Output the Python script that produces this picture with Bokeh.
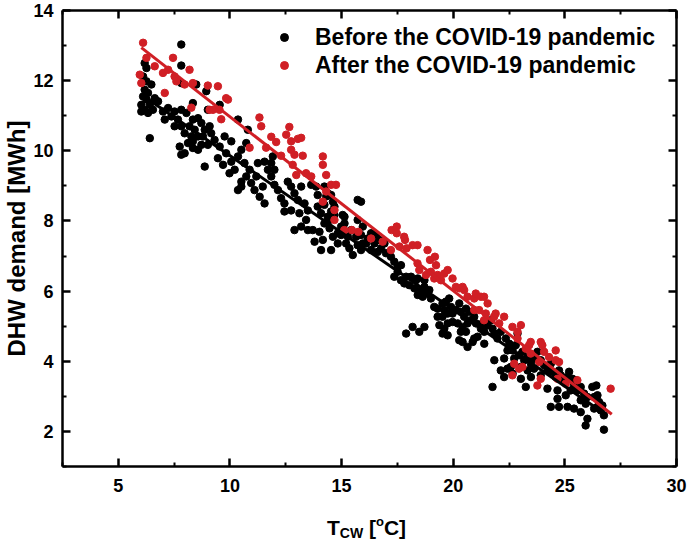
import numpy as np
from bokeh.plotting import figure
from bokeh.layouts import column
from bokeh.models import (Range1d, FixedTicker, LinearAxis, Legend, LegendItem,
                          CustomJSTickFormatter, Div)
from bokeh.embed import file_html
from bokeh.resources import INLINE

# ---------------- data ----------------
before_pts = [
    (7.82,13.03),(6.18,12.5),(6.26,12.36),(7.82,12.43),(6.11,12.12),(6.26,11.98),
    (6.18,11.74),(6.33,11.65),(6.48,11.89),(6.11,11.55),(6.26,11.46),(6.03,11.31),(6.41,11.31),
    (6.18,11.17),(6.33,11.08),(6.03,11.12),(6.55,11.17),(6.63,11.5),(6.41,10.36),
    (6.78,11.41),(7.0,11.12),(7.08,10.89),(7.23,11.22),(7.38,10.98),(7.52,11.12),(7.82,11.17),
    (8.05,11.08),(7.67,10.89),(7.52,10.7),(7.82,10.7),(7.97,10.5),(8.19,10.7),(8.34,10.89),
    (8.57,10.93),(8.72,10.79),(8.87,10.6),(8.42,10.6),(8.27,10.41),(8.12,10.22),(7.75,10.12),
    (7.82,9.89),(7.97,9.93),(8.34,10.27),(8.57,10.41),(8.79,10.41),(9.09,10.7),(9.16,10.5),
    (9.01,10.17),(8.72,10.17),(8.57,10.03),(8.34,10.08),(8.34,11.36),(8.49,11.89),(8.94,11.7),
    (9.01,11.17),(9.54,11.31),(7.82,11.93),(8.87,9.55),
    (9.31,10.31),(9.54,10.12),(9.76,10.41),(10.06,10.27),(9.46,9.79),(9.83,9.93),(9.69,9.6),
    (10.06,9.69),(10.21,9.46),(9.98,9.36),(10.36,9.84),(10.51,10.03),(10.73,10.22),(10.8,10.6),
    (10.36,10.89),(10.65,9.65),(10.88,9.46),(10.73,9.27),(10.51,9.12),(10.95,9.08),(11.18,9.27),
    (11.25,9.65),(11.55,9.69),(11.7,9.46),(11.85,9.27),(11.47,8.98),(11.1,8.88),(10.51,8.98),
    (10.36,8.88),(11.33,8.69),(11.55,8.5),(11.99,9.03),(12.15,8.88),(12.29,8.65),(12.44,8.5),
    (11.85,9.65),(11.92,9.84),(11.99,9.46),(12.59,9.12),(12.74,8.98),(12.89,8.79),(13.04,8.6),
    (13.19,8.98),(13.34,8.5),(13.49,8.3),(13.11,8.22),(12.74,8.3),(12.44,8.27),(13.19,7.84),
    (13.41,8.03),
    (12.89,7.74),(13.49,7.74),(13.71,7.74),(13.79,7.41),(14.08,7.17),(14.16,7.46),(14.01,7.69),
    (14.23,7.93),(14.38,8.12),(14.08,8.22),(13.93,8.41),(14.23,8.46),(14.31,8.7),(14.38,8.79),
    (13.93,8.74),(13.86,8.98),(13.64,9.03),(14.23,8.98),(14.53,8.74),(14.61,8.55),(14.68,8.41),
    (14.53,8.27),(14.68,8.17),(14.46,8.03),(14.46,7.79),(14.61,7.55),(14.53,7.17),(14.83,7.36),
    (14.83,7.65),(14.98,7.84),(15.13,7.93),(15.05,8.17),(15.43,7.74),(15.28,7.55),(15.2,7.36),
    (15.35,7.22),(15.5,7.03),(15.72,7.31),(15.65,7.55),(15.87,7.6),(15.95,7.36),(15.87,7.17),
    (16.1,7.36),(16.17,7.5),(16.32,7.65),(16.54,7.6),(16.47,7.36),(16.69,7.46),(16.77,7.22),
    (16.92,7.36),(16.99,7.08),(16.62,7.12),(16.32,7.17),(17.21,6.98),(17.36,6.84),(17.51,6.69),
    (17.66,6.74),(17.51,6.55),(17.36,6.41),(17.66,6.31),(17.89,6.41),(17.81,6.22),(18.03,6.17),
    (18.11,6.41),(18.33,6.31),(18.26,6.08),(18.41,5.89),(18.56,6.03),(18.71,6.12),(18.63,5.84),
    (18.78,5.93),(18.93,6.03),(19.0,5.79),(18.41,6.36),(18.71,6.31),(19.15,5.55),(19.3,5.5),
    (19.3,5.27),(19.38,5.03),(15.72,8.6),(15.87,8.55),(15.72,8.03),(15.95,7.84),(15.13,8.12),
    (14.98,7.6),(17.89,4.79),(18.18,4.98),(18.48,4.84),(18.71,4.98),
    (19.52,5.65),(19.67,5.7),(19.82,5.79),(19.6,5.46),(19.75,5.36),(19.52,5.27),(19.9,5.55),
    (19.97,5.36),(20.12,5.46),(20.27,5.65),(20.34,5.41),(20.49,5.27),(20.57,5.5),(20.72,5.41),
    (20.79,5.17),(20.94,5.27),(21.02,5.08),(20.64,5.08),(20.42,4.98),(20.2,5.08),(19.97,5.12),
    (19.75,5.08),(19.6,4.93),(19.52,4.79),(19.75,4.74),(20.34,4.84),(20.57,4.84),(20.27,4.6),
    (20.42,4.55),(20.64,4.41),(20.87,4.55),(20.94,4.65),(21.09,4.7),(21.24,4.93),(21.39,4.84),
    (21.31,5.08),(21.54,5.03),(21.76,4.93),(21.69,5.17),(21.84,4.79),(21.98,4.65),(22.13,4.84),
    (22.36,4.65),(22.51,4.5),(22.43,4.31),(22.66,4.31),(22.8,4.46),(22.88,4.79),(22.73,4.08),
    (22.95,4.17),(23.1,4.27),(23.18,4.03),(23.33,4.12),(23.48,3.93),(23.62,4.08),(23.77,4.27),
    (23.92,4.03),(24.07,3.89),(24.22,3.74),(24.37,3.93),(24.44,3.7),(24.59,3.55),(24.74,3.74),
    (24.82,3.6),(24.97,3.41),(25.12,3.55),(25.19,3.7),(25.34,3.5),(25.49,3.46),(25.41,3.31),
    (25.56,3.17),(25.71,3.27),(25.86,3.08),(26.01,2.98),(26.23,3.27),(26.31,2.98),(26.46,3.03),
    (26.53,2.84),(26.68,2.74),(26.61,2.6),(26.75,2.46),(26.46,2.7),(26.31,2.65),(25.93,2.79),
    (25.71,2.89),(25.26,3.17),(25.04,3.03),(24.67,3.17),(24.67,2.93),(24.37,2.7),(24.74,2.7),
    (25.12,2.7),(25.41,2.65),(25.71,2.55),(26.01,2.36),(25.93,2.17),(26.75,2.05),(21.84,4.03),
    (22.28,4.08),(22.43,3.79),(22.66,3.65),(23.03,3.5),(23.25,3.27),(23.92,3.6),(23.33,3.74),
    (23.62,3.79),(23.48,3.55),(24.22,3.22),(21.76,3.27),(21.39,4.5),(22.13,3.74),(22.28,3.55),
    (22.58,3.84),(23.03,3.84),(26.41,3.31),
]
after_pts = [
    (6.11,13.08),(5.96,12.17),(6.03,11.93),(6.26,12.65),(6.63,12.41),(7.0,12.22),(7.45,12.65),
    (7.23,12.31),(7.52,12.12),(7.6,11.98),(7.08,11.65),(8.19,12.31),(7.97,11.89),(8.34,11.93),
    (9.01,11.86),(9.46,11.84),(9.83,11.5),(9.91,11.46),(9.09,11.17),(9.24,11.17),(9.53,11.17),
    (9.61,10.9),(8.27,11.23),(11.32,10.95),(11.4,10.7),(12.66,10.68),(12.52,10.46),(13.04,10.34),
    (13.19,10.37),(12.74,10.27),(11.85,10.4),(12.07,10.25),(11.62,10.09),(12.74,10.03),
    (12.89,9.89),(13.26,9.86),(12.29,9.86),(12.81,9.6),(12.97,9.31),(13.41,9.36),(13.64,9.27),
    (10.88,10.09),
    (14.16,9.84),(14.16,9.6),(14.31,9.31),(14.53,9.03),(14.75,9.03),(14.31,8.84),(14.68,8.31),
    (14.68,8.03),(14.16,8.55),
    (15.12,7.74),(15.46,7.74),(15.75,7.69),(16.32,7.5),(17.24,7.74),(17.47,7.84),(17.47,7.65),
    (17.84,7.46),(17.8,7.55),(17.91,7.22),(19.18,6.98),(18.96,6.89),(18.18,7.31),(18.4,7.31),
    (17.59,7.27),(17.21,7.17),(16.84,7.41),(18.85,7.17),(19.23,6.74),(18.4,6.79),(18.48,6.6),
    (18.78,6.46),(19.0,6.55),(19.3,6.46),(19.15,6.36),(19.45,6.31),
    (19.6,6.5),(19.75,6.6),(19.97,6.36),(20.12,6.12),(20.27,6.08),(20.42,6.12),(20.49,6.03),
    (20.64,5.84),(20.94,5.79),(21.01,5.93),(21.24,5.84),(21.38,5.84),(21.54,5.65),(20.94,5.46),
    (21.16,5.46),(21.46,5.36),(21.83,5.27),(21.9,5.36),(22.28,5.27),(21.38,5.17),(22.06,5.08),
    (22.65,4.98),(23.03,5.03),(22.88,4.84),(22.88,4.65),(23.47,4.55),(23.4,4.46),(23.92,4.55),
    (23.99,4.46),(24.59,4.31),(24.29,4.12),(24.59,4.03),(24.74,3.98),(23.25,4.36),(22.73,3.93),
    (23.1,3.84),(22.95,3.79),(22.65,3.6),(23.85,3.98),(23.92,3.5),(23.77,3.31),(25.04,3.36),
    (24.67,3.5),(25.56,3.46),(27.05,3.22),(24.07,4.27),(23.47,4.22),
]
before_x = [q[0] for q in before_pts]
before_y = [q[1] for q in before_pts]
after_x = [q[0] for q in after_pts]
after_y = [q[1] for q in after_pts]

# linear fit lines (end points)
fit_before_x = [6.17, 26.7]
fit_before_y = [11.54, 2.54]
fit_after_x = [6.03, 27.1]
fit_after_y = [12.94, 2.49]

x_ticks = [5, 10, 15, 20, 25, 30]
x_minor = [2.5, 7.5, 12.5, 17.5, 22.5, 27.5]
y_ticks = [2, 4, 6, 8, 10, 12, 14]
y_minor = [1, 3, 5, 7, 9, 11, 13]

label_before = "Before the COVID-19 pandemic"
label_after = "After the COVID-19 pandemic"
y_title = "DHW demand [MWh]"

# ---------------- main figure ----------------
FONT = "Liberation Sans"
RED = "#d01f25"

p = figure(width=688, height=505, output_backend="svg", toolbar_location=None,
           x_range=Range1d(2.5, 30), y_range=Range1d(1, 14),
           min_border_left=61, min_border_right=12, min_border_top=10, min_border_bottom=39,
           x_axis_type=None, y_axis_type=None)
p.title = None
p.xgrid.visible = False
p.ygrid.visible = False
p.outline_line_color = None
p.background_fill_color = "white"
p.border_fill_color = "white"


def style_axis(ax, ticks, minor, show_labels, standoff=10):
    ax.ticker = FixedTicker(ticks=ticks, minor_ticks=minor)
    ax.axis_line_width = 2.5
    ax.axis_line_color = "black"
    ax.major_tick_in = 8
    ax.major_tick_out = 0
    ax.minor_tick_in = 4
    ax.minor_tick_out = 0
    ax.major_tick_line_width = 2.5
    ax.minor_tick_line_width = 2
    ax.major_tick_line_color = "black"
    ax.minor_tick_line_color = "black"
    if show_labels:
        ax.major_label_text_font = FONT
        ax.major_label_text_font_style = "bold"
        ax.major_label_text_font_size = "18px"
        ax.major_label_text_color = "black"
        ax.major_label_standoff = standoff
    else:
        ax.formatter = CustomJSTickFormatter(code="return ''")
        ax.major_label_text_font_size = "0px"
        ax.major_label_standoff = 0


bottom = LinearAxis()
style_axis(bottom, x_ticks, x_minor, True, standoff=12)
p.add_layout(bottom, "below")
left = LinearAxis()
style_axis(left, y_ticks, y_minor, True, standoff=9)
left.axis_label = y_title
left.axis_label_text_font = FONT
left.axis_label_text_font_style = "bold"
left.axis_label_text_font_size = "24px"
left.axis_label_text_color = "black"
left.axis_label_text_line_height = 1.0
left.axis_label_standoff = 0
p.add_layout(left, "left")
top = LinearAxis()
style_axis(top, x_ticks, x_minor, False)
p.add_layout(top, "above")
right = LinearAxis()
style_axis(right, y_ticks, y_minor, False)
p.add_layout(right, "right")

r_b = p.scatter(before_x, before_y, size=7.5, fill_color="black", line_color="black")
r_a = p.scatter(after_x, after_y, size=7.5, fill_color=RED, line_color=RED)
p.line(fit_before_x, fit_before_y, line_color="black", line_width=3)
p.line(fit_after_x, fit_after_y, line_color=RED, line_width=3)

legend = Legend(items=[LegendItem(label=label_before, renderers=[r_b]),
                       LegendItem(label=label_after, renderers=[r_a])],
                location=(212, 387), orientation="vertical",
                label_text_font=FONT, label_text_font_style="bold",
                label_text_font_size="23px", label_text_color="black",
                glyph_width=20, glyph_height=28, label_height=28, label_standoff=21,
                spacing=-3, padding=0, margin=0,
                border_line_color=None, background_fill_alpha=0)
p.add_layout(legend)

# ---------------- x-axis title (T_CW [oC]) as real text under the plot ----------------
x_title_html = (
    '<div style="margin-left:327px; margin-top:12px; font-family:\'Liberation Sans\'; '
    'font-weight:bold; font-size:21px; line-height:1; white-space:nowrap; color:#000;">'
    'T<span style="font-size:14px; line-height:0; position:relative; top:3px;">CW</span> '
    '[<span style="font-size:13px; line-height:0; position:relative; top:-9px;">o</span>C]'
    '</div>'
)
x_title = Div(text=x_title_html, width=688, height=39, margin=(0, 0, 0, 0))

layout = column(p, x_title, spacing=0)
open("out.html", "w").write(file_html(layout, INLINE))
